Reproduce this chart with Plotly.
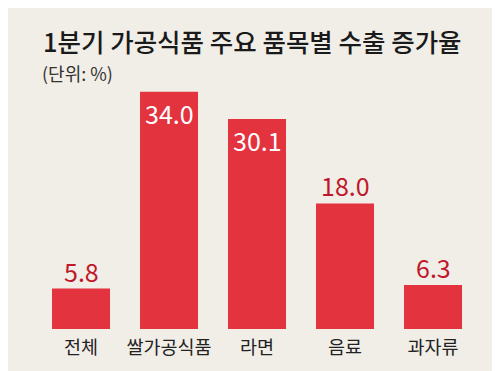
import plotly.graph_objects as go

categories = ["전체", "쌀가공식품", "라면", "음료", "과자류"]
values = [5.8, 34.0, 30.1, 18.0, 6.3]
inside = [False, True, True, False, False]

title_text = "1분기 가공식품 주요 품목별 수출 증가율"
unit_text = "(단위: %)"

BG = "#F1EEE7"
BAR = "#E3333F"
DARK_RED = "#C0182A"
FONT = "Noto Sans CJK KR"

# the page body adds an 8px offset; margins compensate
L, R, T, B = 29, 31, 42, 50
W, H = 500, 371
plot_w = W - L - R
plot_h = H - T - B

def px_to_paper_x(px):
    return (px - 8 - L) / plot_w

def px_to_paper_y(py):
    return (H - B + 8 - py) / plot_h

fig = go.Figure()
fig.add_trace(go.Bar(
    x=categories, y=values,
    marker=dict(color=BAR, line=dict(width=0)),
    hoverinfo="skip",
))

annotations = []
for c, v, ins in zip(categories, values, inside):
    annotations.append(dict(
        x=c, y=v, xref="x", yref="y",
        text=f"{v:.1f}",
        showarrow=False,
        yanchor="top" if ins else "bottom",
        yshift=-1 if ins else -2,
        font=dict(family=FONT, size=25, color="white" if ins else DARK_RED),
    ))

annotations.append(dict(
    x=px_to_paper_x(41), y=px_to_paper_y(40), xref="paper", yref="paper",
    xanchor="left", yanchor="middle", showarrow=False,
    text=title_text,
    font=dict(family=FONT, size=25.5, color="#1a1a1a", weight=500),
))
annotations.append(dict(
    x=px_to_paper_x(40), y=px_to_paper_y(73), xref="paper", yref="paper",
    xanchor="left", yanchor="middle", showarrow=False,
    text=unit_text,
    font=dict(family=FONT, size=18, color="#333333"),
))

fig.update_layout(
    width=W, height=H,
    margin=dict(l=L, r=R, t=T, b=B),
    paper_bgcolor=BG, plot_bgcolor=BG,
    bargap=0.341,
    showlegend=False,
    font=dict(family=FONT),
    xaxis=dict(
        showgrid=False, zeroline=False, showline=False, ticks="",
        tickfont=dict(family=FONT, size=18.5, color="#222222"),
        ticklabelstandoff=5,
        fixedrange=True,
    ),
    yaxis=dict(range=[0, 40], visible=False, fixedrange=True),
    annotations=annotations,
)

fig.write_html("out.html")
